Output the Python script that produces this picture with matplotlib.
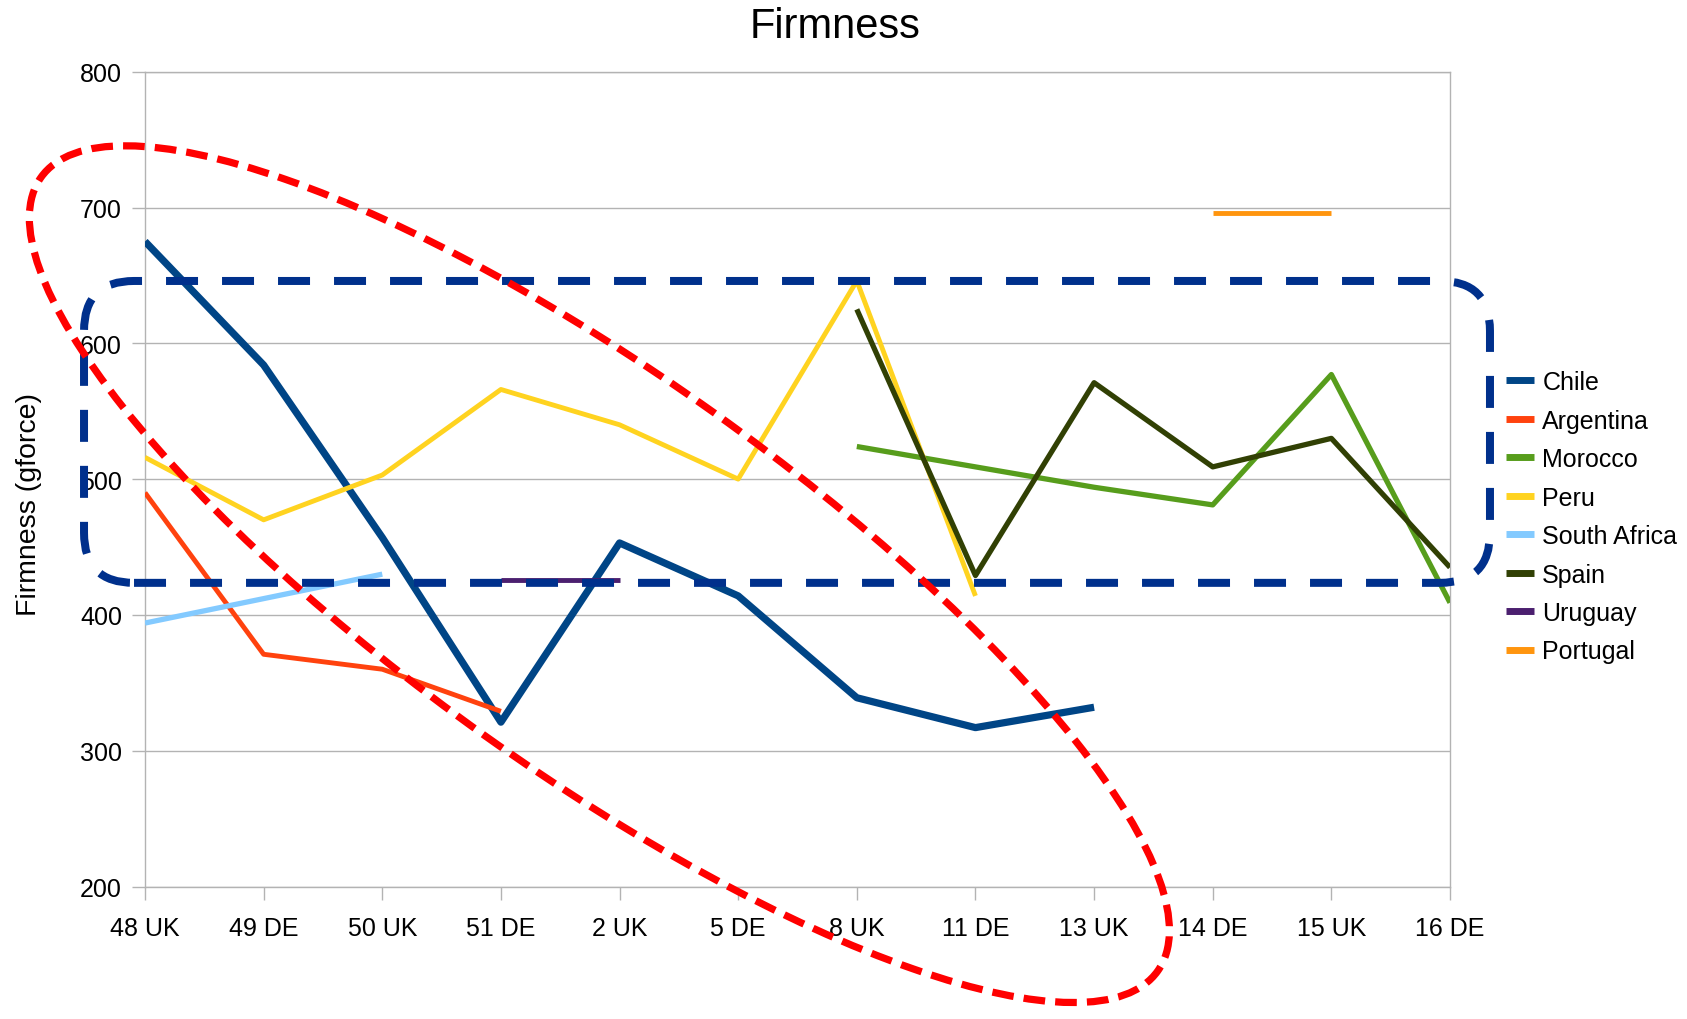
import numpy as np
import matplotlib
matplotlib.use("Agg")
import matplotlib.pyplot as plt
from matplotlib.patches import Ellipse, FancyBboxPatch
from matplotlib.transforms import ScaledTranslation

plt.rcParams["font.family"] = ["Liberation Sans", "DejaVu Sans"]

nan = np.nan

# Shipment weeks (week number + destination market)
weeks = ["48 UK", "49 DE", "50 UK", "51 DE", "2 UK", "5 DE",
         "8 UK", "11 DE", "13 UK", "14 DE", "15 UK", "16 DE"]

# Mean firmness (gforce) per origin; nan = no shipment that week
chile = [675, 584, 457, 321, 453, 414, 339, 317, 332, nan, nan, nan]
argentina = [490, 371, 360, 329, nan, nan, nan, nan, nan, nan, nan, nan]
morocco = [nan, nan, nan, nan, nan, nan, 524, 509, 494, 481, 577, 409]
peru = [516, 470, 503, 566, 540, 500, 646, 414, nan, nan, nan, nan]
south_africa = [394, 412, 430, nan, nan, nan, nan, nan, nan, nan, nan, nan]
spain = [nan, nan, nan, nan, nan, nan, 625, 429, 571, 509, 530, 435]
uruguay = [nan, nan, nan, 426, 426, nan, nan, nan, nan, nan, nan, nan]
portugal = [nan, nan, nan, nan, nan, nan, nan, nan, nan, 696, 696, nan]

origins = ["Chile", "Argentina", "Morocco", "Peru", "South Africa",
           "Spain", "Uruguay", "Portugal"]
values = [chile, argentina, morocco, peru, south_africa, spain, uruguay, portugal]
colors = ["#004586", "#ff420e", "#579d1c", "#ffd320", "#83caff",
          "#314004", "#4b1f6f", "#ff950e"]
widths = [5.2, 3.5, 3.8, 3.5, 3.8, 3.8, 3.5, 3.5]

y_ticks = [200, 300, 400, 500, 600, 700, 800]

W, H = 1687, 1020
fig = plt.figure(figsize=(W / 100, H / 100), dpi=100)
ax = fig.add_axes([145 / W, (H - 887.5) / H, 1305 / W, 814.8 / H])

x = np.arange(len(weeks))
for name, vals, c, lw in zip(origins, values, colors, widths):
    ax.plot(x, vals, color=c, lw=lw, label=name,
            solid_capstyle="butt", solid_joinstyle="round", zorder=3)

grid_c = "#b3b3b3"
ax.set_xlim(0, len(weeks) - 1)
ax.set_ylim(y_ticks[0], y_ticks[-1])
ax.set_xticks(x)
ax.set_xticklabels(weeks)
ax.set_yticks(y_ticks)
ax.yaxis.grid(True, color=grid_c, lw=1.0)
ax.set_axisbelow(True)
for s in ax.spines.values():
    s.set_color(grid_c)
    s.set_linewidth(1.0)
ax.tick_params(axis="both", colors=grid_c, labelcolor="black",
               labelsize=18, length=9.5, width=1.0)
ax.tick_params(axis="y", pad=7)
ax.tick_params(axis="x", pad=11.5)

ax.set_ylabel("Firmness (gforce)", fontsize=20.5)
ax.yaxis.set_label_coords(-0.079, 0.47)

fig.text(0.495, 1 - 27 / H, "Firmness", ha="center", va="center", fontsize=30)

leg = fig.legend(loc="upper left", bbox_to_anchor=(1506 / W, 1 - 371 / H),
                 frameon=False, fontsize=18, handlelength=1.1,
                 handletextpad=0.35, labelspacing=0.58,
                 borderpad=0, borderaxespad=0)
for ln in leg.get_lines():
    ln.set_linewidth(5)
    ln.set_solid_capstyle("butt")

# Highlight shapes: dashed rounded box around the 425-645 band and a
# tilted dashed ellipse around the early-season shipments
p = ax.transData.transform([(0, 200), (1, 300)])
px_per_x = p[1, 0] - p[0, 0]
px_per_y = (p[1, 1] - p[0, 1]) / 100.0

box_x0, box_x1 = -0.514, 11.337
box_y0, box_y1 = 423.6, 645.9
corner = 50 / px_per_x
box = FancyBboxPatch((box_x0, box_y0), box_x1 - box_x0, box_y1 - box_y0,
                     boxstyle=f"round,pad=0,rounding_size={corner}",
                     mutation_aspect=px_per_x / px_per_y,
                     transform=ax.transData, fill=False,
                     edgecolor="#00308c", lw=5.76, linestyle=(0, (4, 3)),
                     clip_on=False, zorder=6)
fig.add_artist(box)

ell_cx, ell_cy = 3.83, 430.0
ell = Ellipse((0, 0), width=13.7, height=3.96, angle=-35.4,
              transform=fig.dpi_scale_trans
              + ScaledTranslation(ell_cx, ell_cy, ax.transData),
              fill=False, edgecolor="#ff0000", lw=5.2,
              linestyle=(0, (3, 1.4)), clip_on=False, zorder=7)
fig.add_artist(ell)

fig.savefig("out.png", dpi=100, facecolor="white")
